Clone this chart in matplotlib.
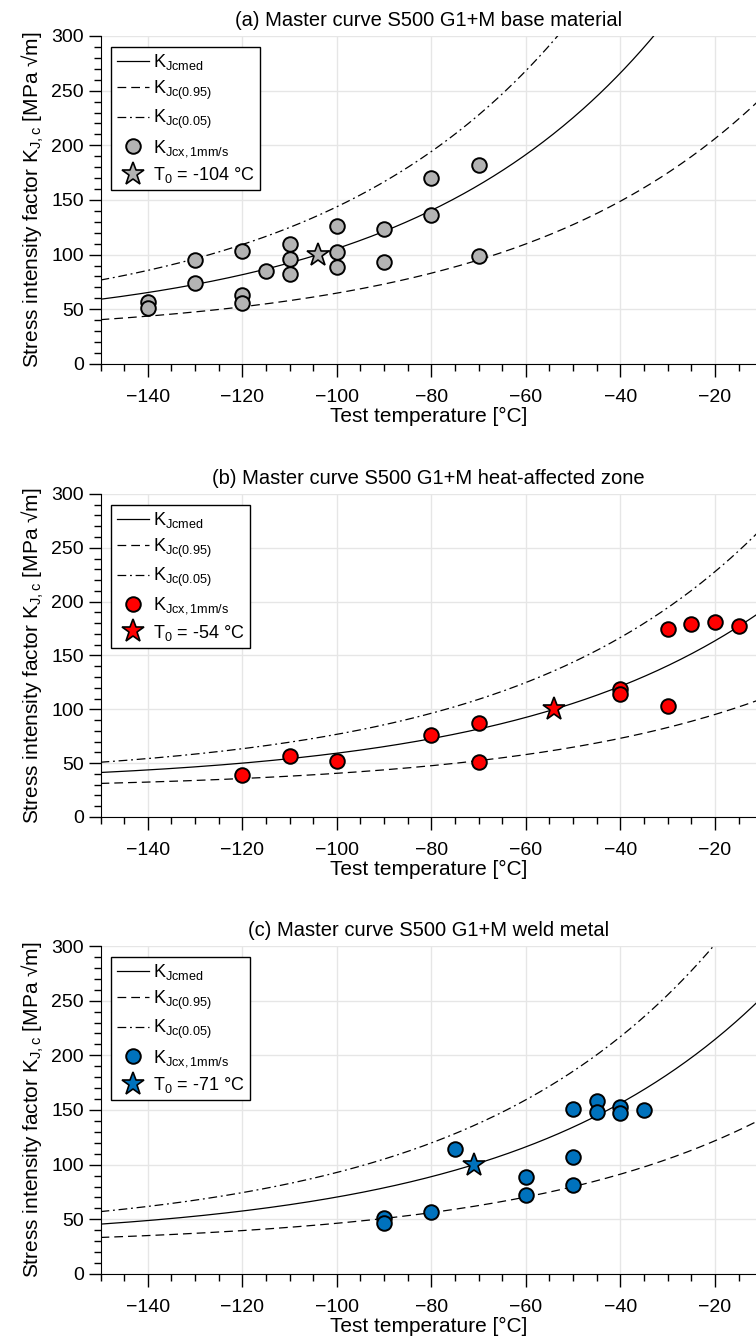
import numpy as np
import matplotlib
matplotlib.use("Agg")
import matplotlib.pyplot as plt
from matplotlib.ticker import MultipleLocator

plt.rcParams['font.family'] = ['Liberation Sans', 'DejaVu Sans']
plt.rcParams['mathtext.fontset'] = 'custom'
plt.rcParams['mathtext.rm'] = 'Liberation Sans'
plt.rcParams['mathtext.it'] = 'Liberation Sans'
plt.rcParams['mathtext.default'] = 'regular'
plt.rcParams['font.size'] = 13

# measured fracture toughness, panel (a) base material
temp_bm = [-140, -140, -130, -130, -120, -120, -120, -115, -110, -110, -110,
           -100, -100, -100, -90, -90, -80, -80, -70, -70]
kjc_bm = [57, 51, 95, 74, 103, 63, 56, 85, 110, 96, 82,
          126, 102, 89, 123, 93, 170, 136, 182, 99]

# panel (b) heat-affected zone
temp_haz = [-120, -110, -100, -80, -70, -70, -40, -40, -30, -30, -25, -20, -15]
kjc_haz = [39, 57, 52, 76, 87, 51, 119, 114, 175, 103, 179, 181, 177]

# panel (c) weld metal
temp_wm = [-90, -90, -80, -75, -60, -60, -50, -50, -50, -45, -45, -40, -40, -35]
kjc_wm = [51, 47, 57, 114, 89, 72, 151, 107, 81, 158, 148, 153, 147, 150]

t0_values = [-104, -54, -71]
titles = ['(a) Master curve S500 G1+M base material',
          '(b) Master curve S500 G1+M heat-affected zone',
          '(c) Master curve S500 G1+M weld metal']
colors = ['#b3b3b3', '#ff0000', '#0072bd']


def master_curve(t, t0, p=None):
    # ASTM E1921 master curve (median or probability bound)
    if p is None:
        return 30 + 70 * np.exp(0.019 * (t - t0))
    return 20 + (11 + 77 * np.exp(0.019 * (t - t0))) * np.log(1 / (1 - p)) ** 0.25


fig = plt.figure(figsize=(7.56, 13.43), dpi=100)
left, width = 0.1330, 0.8670
bottoms = [0.7290, 0.3917, 0.0514]
heights = [0.2442, 0.2405, 0.2442]
datasets = [(temp_bm, kjc_bm), (temp_haz, kjc_haz), (temp_wm, kjc_wm)]

t = np.linspace(-150, -10, 400)
for i in range(3):
    ax = fig.add_axes([left, bottoms[i], width, heights[i]])
    t0 = t0_values[i]
    ax.plot(t, master_curve(t, t0), color='black', lw=0.9, label=r'K$_{Jcmed}$')
    ax.plot(t, master_curve(t, t0, 0.05), color='black', lw=0.9,
            dashes=(7, 4), label=r'K$_{Jc(0.95)}$')
    ax.plot(t, master_curve(t, t0, 0.95), color='black', lw=0.9,
            dashes=(7, 3, 1.5, 3), label=r'K$_{Jc(0.05)}$')
    temps, kjc = datasets[i]
    ax.plot(temps, kjc, 'o', ms=10.5, mfc=colors[i], mec='black', mew=1.4,
            label=r'K$_{Jcx,1mm/s}$')
    ax.plot([t0], [100], '*', ms=17, mfc=colors[i], mec='black', mew=1.2,
            label=r'T$_0$ = %d °C' % t0)

    ax.set_xlim(-150, -11.3)
    ax.set_ylim(0, 300)
    ax.xaxis.set_major_locator(MultipleLocator(20))
    ax.xaxis.set_minor_locator(MultipleLocator(5))
    ax.yaxis.set_major_locator(MultipleLocator(50))
    ax.yaxis.set_minor_locator(MultipleLocator(10))
    ax.tick_params(axis='x', which='major', direction='out', length=9, width=1,
                   labelsize=14, pad=9)
    ax.tick_params(axis='y', which='major', direction='out', length=8.5, width=1,
                   labelsize=14, pad=3.5)
    ax.tick_params(which='minor', direction='out', length=5, width=1)
    ax.spines['top'].set_visible(False)
    ax.spines['right'].set_visible(False)
    ax.grid(True, which='major', color='#e6e6e6', lw=1)
    ax.set_axisbelow(True)
    ax.set_title(titles[i], fontsize=14.5, pad=7)
    ax.set_xlabel('Test temperature [°C]', fontsize=15, labelpad=1)
    ax.set_ylabel('Stress intensity factor K$_{J,c}$ [MPa √m]', fontsize=15, labelpad=4)

    leg = ax.legend(loc='upper left', fontsize=13, frameon=True, fancybox=False,
                    edgecolor='black', framealpha=1, handlelength=1.8,
                    handletextpad=0.2, labelspacing=0.35, borderpad=0.3,
                    borderaxespad=0.6)
    leg.get_frame().set_linewidth(1.0)

fig.savefig('out.png', dpi=100)
